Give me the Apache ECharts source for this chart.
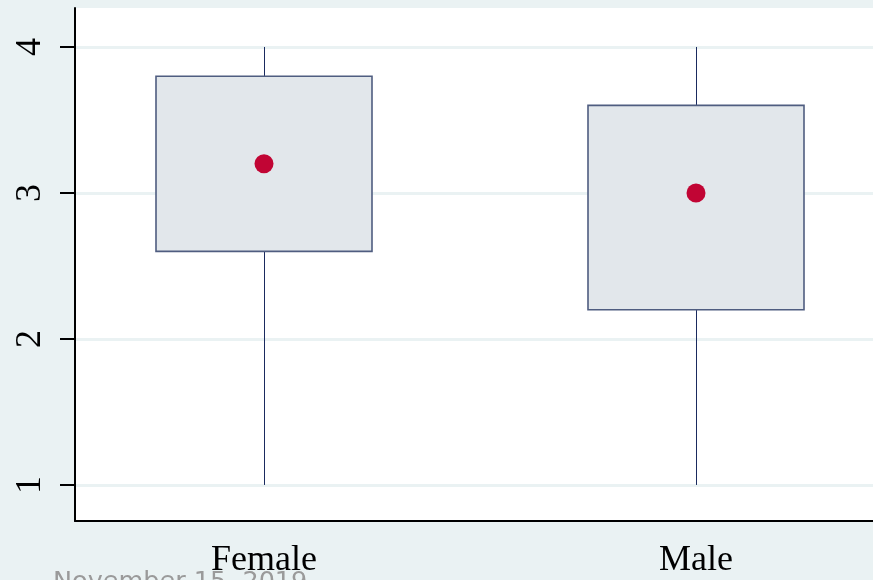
<!DOCTYPE html>
<html>
<head>
<meta charset="utf-8">
<script src="https://cdn.jsdelivr.net/npm/echarts@6/dist/echarts.min.js"></script>
<style>
html,body{margin:0;padding:0;background:#eaf2f3;}
#chart{width:873px;height:580px;}
</style>
</head>
<body>
<div id="chart"></div>
<script>
const categories = ['Female', 'Male'];
const lowerWhisker = [1, 1];
const q1 = [2.6, 2.2];
const median = [3.2, 3.0];
const q3 = [3.8, 3.6];
const upperWhisker = [4, 4];
const yTicks = [1, 2, 3, 4];
const dateText = 'November 15, 2019';

const boxData = categories.map((c, i) => [i, lowerWhisker[i], q1[i], q3[i], upperWhisker[i]]);
const medianData = categories.map((c, i) => [i, median[i]]);

const chart = echarts.init(document.getElementById('chart'));
chart.setOption({
  backgroundColor: '#eaf2f3',
  animation: false,
  grid: {
    left: 75, top: 8, right: -12, bottom: 59,
    outerBoundsMode: 'none', containLabel: false,
    show: true, backgroundColor: '#ffffff', borderWidth: 0
  },
  xAxis: {
    type: 'value',
    min: -0.4375, max: 1.4375,
    axisLine: { show: true, onZero: false, lineStyle: { color: '#000', width: 2 } },
    axisTick: { show: false },
    splitLine: { show: false },
    axisLabel: {
      customValues: [0, 1],
      formatter: v => categories[Math.round(v)] || '',
      fontFamily: 'Liberation Serif', fontSize: 36, color: '#000', margin: 22
    }
  },
  yAxis: {
    type: 'value',
    min: 0.753, max: 4.267,
    axisLine: { show: true, onZero: false, lineStyle: { color: '#000', width: 2 } },
    axisTick: { show: true, customValues: yTicks, length: 15, lineStyle: { color: '#000', width: 2 } },
    splitLine: { show: true, lineStyle: { color: '#eaf2f3', width: 3 } },
    axisLabel: {
      customValues: yTicks,
      rotate: 90,
      fontFamily: 'Liberation Serif', fontSize: 36, color: '#000', margin: 26
    }
  },
  series: [
    {
      type: 'custom',
      data: boxData,
      encode: { x: 0, y: [1, 2, 3, 4] },
      renderItem: function (params, api) {
        const x = api.value(0);
        const lo = api.coord([x, api.value(1)]);
        const b1 = api.coord([x, api.value(2)]);
        const b3 = api.coord([x, api.value(3)]);
        const hi = api.coord([x, api.value(4)]);
        const w = api.size([0.5, 0])[0];
        const cx = Math.round(lo[0]) + 0.5;
        return {
          type: 'group',
          children: [
            { type: 'line', shape: { x1: cx, y1: lo[1], x2: cx, y2: b1[1] },
              style: { stroke: '#1a2a5e', lineWidth: 1 } },
            { type: 'line', shape: { x1: cx, y1: b3[1], x2: cx, y2: hi[1] },
              style: { stroke: '#1a2a5e', lineWidth: 1 } },
            { type: 'rect', shape: { x: b3[0] - w / 2, y: b3[1], width: w, height: b1[1] - b3[1] },
              style: { fill: '#e2e7eb', stroke: '#4f5d80', lineWidth: 1.6 } }
          ]
        };
      },
      z: 2
    },
    {
      type: 'scatter',
      data: medianData,
      symbol: 'circle',
      symbolSize: 19,
      itemStyle: { color: '#c10534', opacity: 1 },
      z: 3
    }
  ],
  graphic: [
    {
      type: 'text', left: 53, top: 569,
      style: { text: dateText, font: '25.5px "DejaVu Sans"', fill: '#9a9a9a' }
    }
  ]
});
</script>
</body>
</html>
